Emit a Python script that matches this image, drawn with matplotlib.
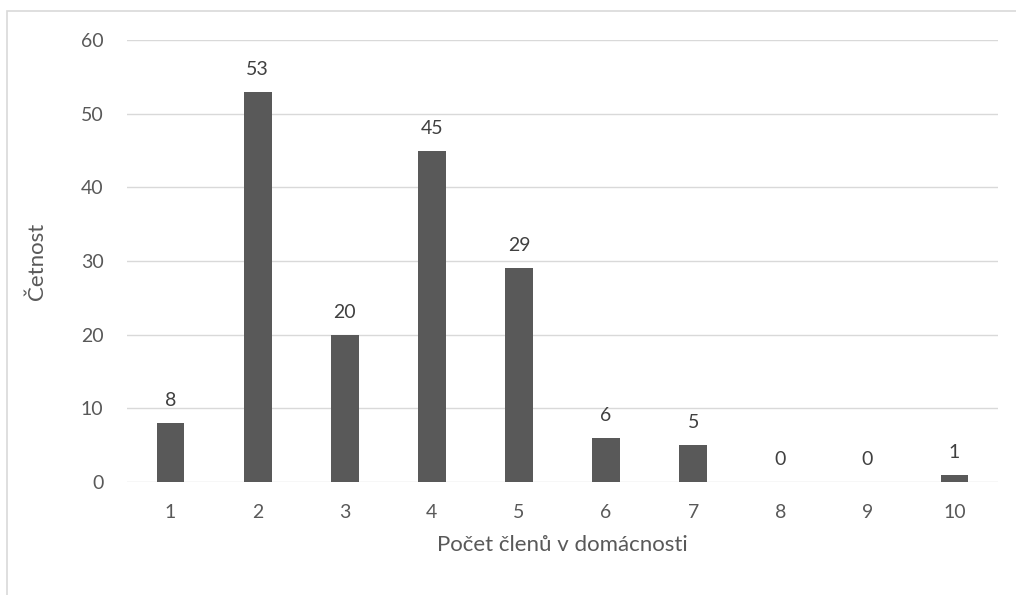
import matplotlib.pyplot as plt
from matplotlib.patches import Rectangle

members = ["1", "2", "3", "4", "5", "6", "7", "8", "9", "10"]
counts = [8, 53, 20, 45, 29, 6, 5, 0, 0, 1]

plt.rcParams['font.family'] = ['Lato', 'DejaVu Sans']
grey = "#595959"

fig = plt.figure(figsize=(10.16, 5.95), dpi=100)
ax = fig.add_axes([127/1016, 1-482/595, 871/1016, 442/595])

x = range(1, len(members)+1)
bars = ax.bar(x, counts, width=0.32, color=grey, zorder=3)
for xi, c in zip(x, counts):
    ax.annotate(str(c), (xi, c), xytext=(0, 10), textcoords="offset points",
                ha="center", va="bottom", fontsize=14, color="#404040")

ax.set_xlim(0.5, 10.5)
ax.set_ylim(0, 60)
ax.set_yticks(range(0, 61, 10))
ax.set_xticks(list(x))
ax.set_xticklabels(members)
ax.grid(axis="y", color="#d9d9d9", linewidth=1, zorder=0)
for s in ax.spines.values():
    s.set_visible(False)
ax.tick_params(length=0, labelsize=14, colors=grey)
ax.tick_params(axis="x", pad=16)
ax.tick_params(axis="y", pad=17)
ax.set_xlabel("Počet členů v domácnosti", fontsize=16, color=grey, labelpad=10)
ax.set_ylabel("Četnost", fontsize=16, color=grey, labelpad=24)

fig.patches.append(Rectangle((7/1016, -0.1), 1.2, 1-11/595+0.1, transform=fig.transFigure,
                             fill=False, edgecolor="#d9d9d9", linewidth=1.2))

fig.savefig("out.png", dpi=100)
